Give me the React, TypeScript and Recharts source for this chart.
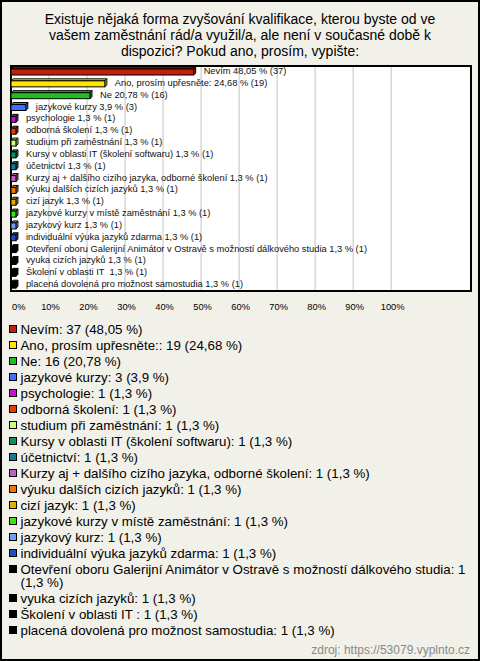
import React from 'react';
import {
  BarChart,
  Bar,
  XAxis,
  YAxis,
  CartesianGrid,
  ReferenceArea,
  LabelList
} from 'recharts';

const names = [
  'Nevím',
  'Ano, prosím upřesněte:',
  'Ne',
  'jazykové kurzy',
  'psychologie',
  'odborná školení',
  'studium při zaměstnání',
  'Kursy v oblasti IT (školení softwaru)',
  'účetnictví',
  'Kurzy aj + dalšího cizího jazyka, odborné školení',
  'výuku dalších cizích jazyků',
  'cizí jazyk',
  'jazykové kurzy v místě zaměstnání',
  'jazykový kurz',
  'individuální výuka jazyků zdarma',
  'Otevření oboru Galerijní Animátor v Ostravě s možností dálkového studia',
  'vyuka cizích jazyků',
  'Školení v oblasti IT ',
  'placená dovolená pro možnost samostudia'
];
const counts = [37, 19, 16, 3, 1, 1, 1, 1, 1, 1, 1, 1, 1, 1, 1, 1, 1, 1, 1];
const percents = [48.05, 24.68, 20.78, 3.9, 1.3, 1.3, 1.3, 1.3, 1.3, 1.3, 1.3, 1.3, 1.3, 1.3, 1.3, 1.3, 1.3, 1.3, 1.3];
const colors = [
  '#c0200c', '#ffe600', '#1fbf1f', '#3f6fff', '#c010d0', '#e03f00', '#c8ff80',
  '#109060', '#1a7890', '#c060c0', '#f07800', '#e0b000', '#40e020', '#70a0f0',
  '#2050c0', '#000000', '#000000', '#000000', '#000000'
];
const xTicks = [0, 10, 20, 30, 40, 50, 60, 70, 80, 90, 100];

const fmt = (v: number) => v.toString().replace('.', ',');

const data = names.map((name, i) => ({
  name,
  pct: percents[i],
  label: `${name} ${fmt(percents[i])} % (${counts[i]})`,
  color: colors[i]
}));

const FONT = '"Liberation Sans", Arial, sans-serif';
const D = 2;

// bar with a small 3D top and side face
const Bar3D = (props: any) => {
  const { x, y, width, height, payload } = props;
  const fill = payload.color;
  const w = Math.max(width, 0);
  return (
    <g stroke="#000" strokeWidth={1} fill={fill}>
      <polygon points={`${x},${y} ${x + D},${y - D} ${x + w + D},${y - D} ${x + w},${y}`} />
      <polygon points={`${x + w},${y} ${x + w + D},${y - D} ${x + w + D},${y + height - D} ${x + w},${y + height}`} />
      <rect x={x} y={y} width={w} height={height} />
    </g>
  );
};

const BarLabel = (props: any) => {
  const { x, y, width, height, value } = props;
  return (
    <text
      x={x + width + 10}
      y={y + height / 2 - 1}
      dominantBaseline="central"
      fontSize={9.3}
      fontFamily={FONT}
      fill="#111"
      style={{ whiteSpace: 'pre' }}
    >
      {value}
    </text>
  );
};

const XTick = (props: any) => {
  const { x, y, payload } = props;
  const first = payload.value === 0;
  return (
    <text
      x={first ? x + 1 : x + 1.5}
      y={y}
      dy="0.71em"
      textAnchor={first ? 'start' : 'middle'}
      fontSize={9.3}
      fontFamily={FONT}
      fill="#000"
    >
      {payload.value}%
    </text>
  );
};

export default function App() {
  return (
    <div
      style={{
        position: 'fixed',
        left: 0,
        top: 0,
        width: 480,
        height: 661,
        boxSizing: 'border-box',
        border: '2px solid #000',
        background: '#f2f1e9',
        fontFamily: FONT,
        overflow: 'hidden'
      }}
    >
      <div
        style={{
          position: 'absolute',
          left: -2,
          top: 9,
          width: 480,
          textAlign: 'center',
          fontSize: 14,
          lineHeight: '16px',
          color: '#000'
        }}
      >
        Existuje nějaká forma zvyšování kvalifikace, kterou byste od ve
        <br />
        vašem zaměstnání rád/a využil/a, ale není v současné době k
        <br />
        dispozici? Pokud ano, prosím, vypište:
      </div>

      <div style={{ position: 'absolute', left: -2, top: -2 }}>
        <BarChart
          width={480}
          height={320}
          data={data}
          layout="vertical"
          margin={{ top: 66, right: 9, bottom: 9, left: 11 }}
        >
          <CartesianGrid horizontal={false} stroke="#c4c4c4" fill="#ffffff" />
          <XAxis
            type="number"
            domain={[0, 121]}
            ticks={xTicks}
            axisLine={false}
            tickLine={false}
            tickMargin={6}
            height={20}
            tick={<XTick />}
            allowDataOverflow
          />
          <YAxis type="category" dataKey="name" hide />
          <ReferenceArea x1={0} x2={121} fill="none" stroke="#000" strokeWidth={2} fillOpacity={0} />
          <Bar dataKey="pct" barSize={6} shape={<Bar3D />} isAnimationActive={false}>
            <LabelList dataKey="label" content={<BarLabel />} />
          </Bar>
        </BarChart>
      </div>

      <div style={{ position: 'absolute', left: 7, top: 320.5, width: 466, fontSize: 13.3, lineHeight: '13px', color: '#000' }}>
        {names.map((name, i) => (
          <div key={i} style={{ display: 'flex', alignItems: 'flex-start', marginBottom: 3 }}>
            <span
              style={{
                flex: '0 0 auto',
                width: 8,
                height: 8,
                boxSizing: 'border-box',
                border: '1px solid #000',
                background: colors[i],
                marginTop: 2.5,
                marginRight: 3.5
              }}
            />
            <span style={{ whiteSpace: 'pre-wrap' }}>
              {`${name}: ${counts[i]} (${fmt(percents[i])} %)`}
            </span>
          </div>
        ))}
      </div>

      <div
        style={{
          position: 'absolute',
          right: 8,
          top: 641,
          fontSize: 12,
          lineHeight: '14px',
          color: '#888'
        }}
      >
        zdroj: https://53079.vyplnto.cz
      </div>
    </div>
  );
}
